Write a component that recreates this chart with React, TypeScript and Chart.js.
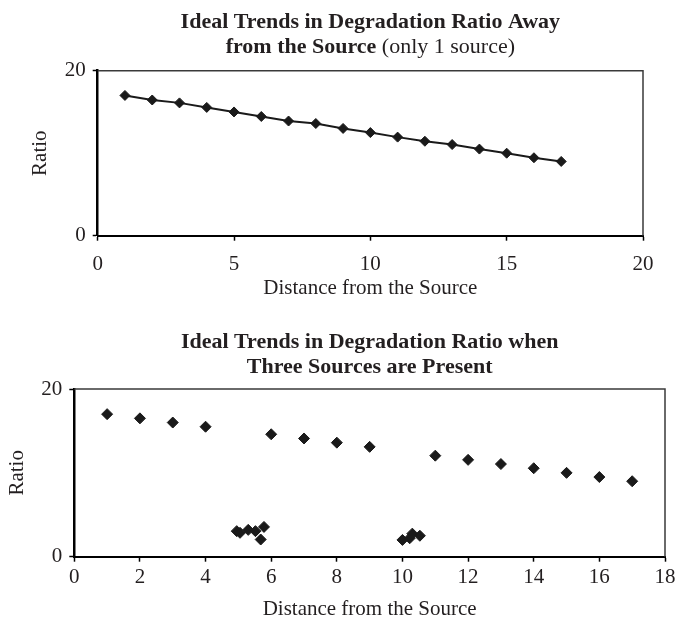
import React, { useEffect, useRef } from 'react';
import { Chart, registerables } from 'chart.js';

Chart.register(...registerables);

// ---------- data ----------
const xAxisTitle = 'Distance from the Source';
const yAxisTitle = 'Ratio';
const yTickValues = [0, 20];

// chart 1: only one source
const topTitleLine1 = 'Ideal Trends in Degradation Ratio Away';
const topTitleLine2Bold = 'from the Source';
const topTitleLine2Normal = ' (only 1 source)';
const topXTicks = [0, 5, 10, 15, 20];
const topDistance = [1, 2, 3, 4, 5, 6, 7, 8, 9, 10, 11, 12, 13, 14, 15, 16, 17];
const topRatio = [17.0, 16.45, 16.1, 15.55, 15.0, 14.45, 13.9, 13.6, 13.0, 12.5, 11.95, 11.45, 11.05, 10.5, 10.0, 9.45, 9.0];

// chart 2: three sources
const bottomTitleLine1 = 'Ideal Trends in Degradation Ratio when';
const bottomTitleLine2 = 'Three Sources are Present';
const bottomXTicks = [0, 2, 4, 6, 8, 10, 12, 14, 16, 18];
const mainDistance = [1, 2, 3, 4, 6, 7, 8, 9, 11, 12, 13, 14, 15, 16, 17];
const mainRatio = [17.0, 16.5, 16.0, 15.5, 14.6, 14.1, 13.6, 13.1, 12.05, 11.55, 11.05, 10.55, 10.0, 9.5, 9.0];
const sourceADistance = [4.95, 5.05, 5.3, 5.52, 5.78, 5.68];
const sourceARatio = [3.05, 2.85, 3.2, 3.05, 3.55, 2.05];
const sourceBDistance = [10.0, 10.22, 10.3, 10.53];
const sourceBRatio = [2.0, 2.2, 2.75, 2.5];

// ---------- styles ----------
const FONT = '"Liberation Serif", "Times New Roman", serif';
const TEXT = '#231f20';
const INK = '#1a1a1a';
const AXIS_SIZE = 21;
const TITLE_SIZE = 22;

const toPoints = (xs: number[], ys: number[]) => xs.map((x, i) => ({ x, y: ys[i] }));

type Seg = { text: string; bold: boolean };

function titlePlugin(lines: Seg[][], ys: number[], size: number) {
  return {
    id: 'mixedTitle',
    afterDraw(chart: any) {
      const { ctx, chartArea } = chart;
      const cx = (chartArea.left + chartArea.right) / 2;
      ctx.save();
      ctx.fillStyle = TEXT;
      ctx.textBaseline = 'middle';
      ctx.textAlign = 'left';
      lines.forEach((segs, i) => {
        const widths = segs.map((s) => {
          ctx.font = `${s.bold ? 'bold ' : ''}${size}px ${FONT}`;
          return ctx.measureText(s.text).width;
        });
        const total = widths.reduce((a, b) => a + b, 0);
        let x = cx - total / 2;
        segs.forEach((s, j) => {
          ctx.font = `${s.bold ? 'bold ' : ''}${size}px ${FONT}`;
          ctx.fillText(s.text, x, ys[i]);
          x += widths[j];
        });
      });
      ctx.restore();
    },
  };
}

const boxPlugin = {
  id: 'plotBox',
  beforeDatasetsDraw(chart: any) {
    const { ctx, chartArea } = chart;
    ctx.save();
    ctx.strokeStyle = '#3a3a3a';
    ctx.lineWidth = 1.5;
    ctx.beginPath();
    ctx.moveTo(chartArea.left, chartArea.top);
    ctx.lineTo(chartArea.right, chartArea.top);
    ctx.lineTo(chartArea.right, chartArea.bottom);
    ctx.stroke();
    ctx.restore();
  },
};

type Layout = {
  xMax: number;
  xTicks: number[];
  yWidth: number;
  xHeight: number;
  padRight: number;
  padTop: number;
  xTickPad: number;
  xTitlePadBottom: number;
  yTitlePadTop: number;
};

function buildOptions(l: Layout): any {
  const tickFont = { family: FONT, size: AXIS_SIZE };
  return {
    responsive: false,
    animation: false,
    devicePixelRatio: 1,
    layout: { padding: { left: 0, right: l.padRight, top: l.padTop, bottom: 0 } },
    plugins: { legend: { display: false }, tooltip: { enabled: false }, title: { display: false } },
    scales: {
      x: {
        type: 'linear',
        min: 0,
        max: l.xMax,
        afterBuildTicks: (s: any) => {
          s.ticks = l.xTicks.map((v) => ({ value: v }));
        },
        afterFit: (s: any) => {
          s.height = l.xHeight;
        },
        grid: { display: true, drawOnChartArea: false, drawTicks: true, tickLength: 5, tickColor: '#000', tickWidth: 1.5 },
        border: { display: true, color: '#000', width: 2 },
        ticks: { color: TEXT, font: tickFont, padding: l.xTickPad, maxRotation: 0, autoSkip: false },
        title: {
          display: true,
          text: xAxisTitle,
          color: TEXT,
          font: tickFont,
          padding: { top: 0, bottom: l.xTitlePadBottom },
        },
      },
      y: {
        type: 'linear',
        min: 0,
        max: 20,
        afterBuildTicks: (s: any) => {
          s.ticks = yTickValues.map((v) => ({ value: v }));
        },
        afterFit: (s: any) => {
          s.width = l.yWidth;
        },
        grid: { display: true, drawOnChartArea: false, drawTicks: true, tickLength: 5, tickColor: '#000', tickWidth: 1.5 },
        border: { display: true, color: '#000', width: 2.5 },
        ticks: { color: TEXT, font: tickFont, padding: 7 },
        title: {
          display: true,
          text: yAxisTitle,
          color: TEXT,
          font: tickFont,
          padding: { top: l.yTitlePadTop, bottom: 0 },
        },
      },
    },
  };
}

const pointStyle = {
  pointStyle: 'rectRot',
  pointRadius: 5.5,
  pointBackgroundColor: INK,
  pointBorderColor: INK,
  pointBorderWidth: 1,
  backgroundColor: INK,
  borderColor: INK,
};

export default function App() {
  const topRef = useRef<HTMLCanvasElement>(null);
  const bottomRef = useRef<HTMLCanvasElement>(null);

  useEffect(() => {
    const top = new Chart(topRef.current as HTMLCanvasElement, {
      type: 'scatter',
      data: {
        datasets: [
          {
            label: 'Ratio',
            data: toPoints(topDistance, topRatio),
            showLine: true,
            borderWidth: 2,
            ...pointStyle,
            pointRadius: 5,
          } as any,
        ],
      },
      options: buildOptions({
        xMax: 20,
        xTicks: topXTicks,
        yWidth: 97.7,
        xHeight: 305 - 235.7,
        padRight: 36,
        padTop: 70.7,
        xTickPad: 11.5,
        xTitlePadBottom: 3.5,
        yTitlePadTop: 27.5,
      }),
      plugins: [
        boxPlugin,
        titlePlugin(
          [
            [{ text: topTitleLine1, bold: true }],
            [
              { text: topTitleLine2Bold, bold: true },
              { text: topTitleLine2Normal, bold: false },
            ],
          ],
          [22, 47],
          TITLE_SIZE
        ),
      ],
    });

    const bottom = new Chart(bottomRef.current as HTMLCanvasElement, {
      type: 'scatter',
      data: {
        datasets: [
          { label: 'Main', data: toPoints(mainDistance, mainRatio), showLine: false, ...pointStyle } as any,
          { label: 'Source A', data: toPoints(sourceADistance, sourceARatio), showLine: false, ...pointStyle } as any,
          { label: 'Source B', data: toPoints(sourceBDistance, sourceBRatio), showLine: false, ...pointStyle } as any,
        ],
      },
      options: buildOptions({
        xMax: 18,
        xTicks: bottomXTicks,
        yWidth: 74.3,
        xHeight: 330 - 251.7,
        padRight: 10,
        padTop: 84,
        xTickPad: 3.5,
        xTitlePadBottom: 12.5,
        yTitlePadTop: 5,
      }),
      plugins: [
        boxPlugin,
        titlePlugin(
          [[{ text: bottomTitleLine1, bold: true }], [{ text: bottomTitleLine2, bold: true }]],
          [37, 62],
          TITLE_SIZE
        ),
      ],
    });

    return () => {
      top.destroy();
      bottom.destroy();
    };
  }, []);

  return (
    <div
      style={{
        position: 'fixed',
        left: 0,
        top: 0,
        width: 679,
        height: 618,
        overflow: 'hidden',
        background: '#fff',
      }}
    >
      <canvas
        ref={topRef}
        width={679}
        height={305}
        style={{ position: 'absolute', left: 0, top: 0, width: 679, height: 305 }}
      />
      <canvas
        ref={bottomRef}
        width={679}
        height={330}
        style={{ position: 'absolute', left: 0, top: 305, width: 679, height: 330 }}
      />
    </div>
  );
}
